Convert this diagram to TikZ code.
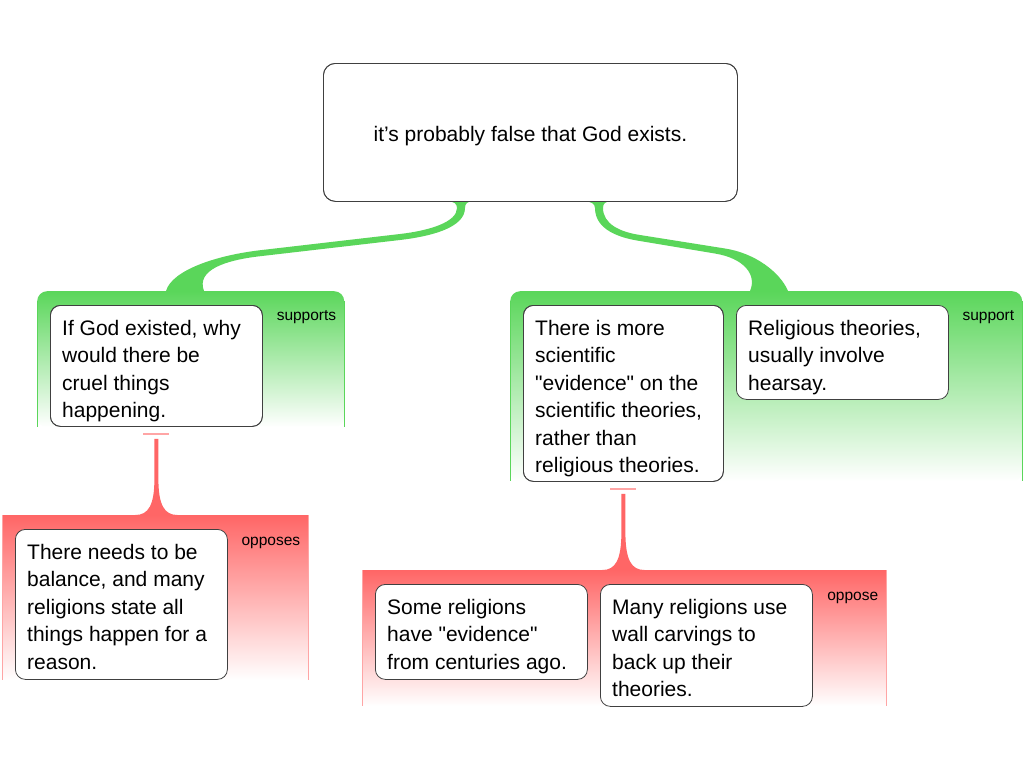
\documentclass[tikz,border=0pt]{standalone}
\usepackage{fontspec}
\setmainfont{Liberation Sans}[Ligatures=TeXOff]
\definecolor{grn}{RGB}{90,214,90}
\definecolor{rd}{RGB}{255,102,102}
\definecolor{rdl}{RGB}{255,165,165}
\newcommand\myst{\rule{0pt}{16pt}}
\begin{document}
\begin{tikzpicture}[x=1pt,y=-1pt,
  card/.style={draw=black!75, line width=0.8pt, fill=white, rounded corners=10pt, anchor=north west, inner sep=0pt},
  cardtext/.style={anchor=north west, inner sep=0pt, align=left, font=\fontsize{21}{27.5}\selectfont},
  grpG/.style={top color=grn, bottom color=white, rounded corners=10pt, anchor=north west, inner sep=0pt},
  grpR/.style={top color=rd, bottom color=white, anchor=north west, inner sep=0pt},
  lbl/.style={anchor=base east, inner sep=0pt, font=\fontsize{15.5}{18}\selectfont},
  gside/.style={draw=grn, line width=1pt},
  rside/.style={draw=rdl, line width=1pt},
  capbar/.style={draw=rdl, line width=2pt}]
\fill[white] (0,0) rectangle (1024,768);
\useasboundingbox (0,0) rectangle (1024,768);

% groups
\node[grpG, minimum width=307pt, minimum height=136pt] (gL) at (37,291) {};
\node[grpG, minimum width=512pt, minimum height=190pt] (gR) at (510,291) {};
\node[grpR, minimum width=306pt, minimum height=165pt] (rL) at (2,515) {};
\node[grpR, minimum width=524pt, minimum height=136pt] (rR) at (362,570) {};
\draw[gside] ([yshift=-10pt]gL.north west) -- (gL.south west);
\draw[gside] ([yshift=-10pt]gL.north east) -- (gL.south east);
\draw[gside] ([yshift=-10pt]gR.north west) -- (gR.south west);
\draw[gside] ([yshift=-10pt]gR.north east) -- (gR.south east);
\draw[rside] (rL.north west) -- (rL.south west);
\draw[rside] (rL.north east) -- (rL.south east);
\draw[rside] (rR.north west) -- (rR.south west);
\draw[rside] (rR.north east) -- (rR.south east);

% cards (placed first so connectors can use their anchors)
\node[card, rounded corners=12pt, minimum width=414pt, minimum height=138pt] (claim) at (323,63) {};
\node[card, minimum width=212pt, minimum height=121pt] (l1) at (50,305) {};
\node[card, minimum width=200pt, minimum height=176pt] (r1) at (523,305) {};
\node[card, minimum width=212pt, minimum height=94pt] (r2) at (736,305) {};
\node[card, minimum width=212pt, minimum height=150pt] (ll) at (15,529) {};
\node[card, minimum width=212pt, minimum height=95pt] (rl1) at (375,584) {};
\node[card, minimum width=212pt, minimum height=122pt] (rl2) at (600,584) {};

% green connectors (support)
\fill[grn] ([xshift=125pt]claim.south west) .. controls (454,201) and (457,204) .. (457,208)
  .. controls (457,222) and (430,230.5) .. (400,234)
  -- (262,250) .. controls (217,255) and (172,270) .. ([xshift=129pt]gL.north west)
  -- ([xshift=167pt]gL.north west) .. controls (196,270) and (225,260) .. (262,256)
  -- (400,240) .. controls (430,236.5) and (465,228) .. (465,208)
  .. controls (465,204) and (467,201) .. ([xshift=150pt]claim.south west) -- cycle;
\fill[grn] ([xshift=262pt]claim.south west) .. controls (591,201) and (595,204) .. (595,208)
  .. controls (595,230) and (620,238) .. (640,241)
  -- (715,253.5) .. controls (744.6,258.5) and (757,275) .. ([xshift=240pt]gR.north west)
  -- ([xshift=278pt]gR.north west) .. controls (780,272) and (754.6,253) .. (725,248.5)
  -- (640,235) .. controls (620,232) and (603,224) .. (603,208)
  .. controls (603,204) and (605,201) .. ([xshift=288pt]claim.south west) -- cycle;

% red connectors (oppose)
\coordinate (ltop) at ([yshift=-12pt]l1.south);
\coordinate (lfoot) at (l1.south |- rL.north);
\coordinate (rtop) at ([yshift=-12pt]r1.south);
\coordinate (rfoot) at (r1.south |- rR.north);
\draw[capbar] ([shift={(-13,7)}]l1.south) -- ([shift={(13,7)}]l1.south);
\draw[capbar] ([shift={(-13,7.5)}]r1.south) -- ([shift={(13,7.5)}]r1.south);
\fill[rd] ([xshift=-2pt]ltop) -- ([shift={(-2,-36)}]lfoot) .. controls +(0,26) and +(13,0) .. ([xshift=-21pt]lfoot)
  -- ([xshift=21pt]lfoot) .. controls +(-13,0) and +(0,26) .. ([shift={(2,-36)}]lfoot)
  -- ([xshift=2pt]ltop) -- cycle;
\fill[rd] ([xshift=-2pt]rtop) -- ([shift={(-2,-38)}]rfoot) .. controls +(0,28) and +(13,0) .. ([xshift=-21pt]rfoot)
  -- ([xshift=21pt]rfoot) .. controls +(-13,0) and +(0,28) .. ([shift={(2,-38)}]rfoot)
  -- ([xshift=2pt]rtop) -- cycle;

% redraw card borders over connector ends
\node[card, rounded corners=12pt, minimum width=414pt, minimum height=138pt, fill=none] at (claim.north west) {};
\node[card, minimum width=212pt, minimum height=121pt, fill=none] at (l1.north west) {};
\node[card, minimum width=200pt, minimum height=176pt, fill=none] at (r1.north west) {};

% texts
\node[anchor=base, inner sep=0pt, font=\fontsize{21}{27.5}\selectfont] (claimt) at ([yshift=-9pt]claim.center) {it’s probably false that God exists.};
\node[cardtext] (l1t) at ([shift={(12,14)}]l1.north west) {\myst If God existed, why\\would there be\\cruel things\\happening.};
\node[cardtext] (r1t) at ([shift={(12,14)}]r1.north west) {\myst There is more\\scientific\\"evidence" on the\\scientific theories,\\rather than\\religious theories.};
\node[cardtext] (r2t) at ([shift={(12,14)}]r2.north west) {\myst Religious theories,\\usually involve\\hearsay.};
\node[cardtext] (llt) at ([shift={(12,14)}]ll.north west) {\myst There needs to be\\balance, and many\\religions state all\\things happen for a\\reason.};
\node[cardtext] (rl1t) at ([shift={(12,14)}]rl1.north west) {\myst Some religions\\have "evidence"\\from centuries ago.};
\node[cardtext] (rl2t) at ([shift={(12,14)}]rl2.north west) {\myst Many religions use\\wall carvings to\\back up their\\theories.};

% labels
\node[lbl] (gLl) at ([shift={(-8,29)}]gL.north east) {supports};
\node[lbl] (gRl) at ([shift={(-8,29)}]gR.north east) {support};
\node[lbl] (rLl) at ([shift={(-8,30)}]rL.north east) {opposes};
\node[lbl] (rRl) at ([shift={(-8,30)}]rR.north east) {oppose};
\end{tikzpicture}
\end{document}
